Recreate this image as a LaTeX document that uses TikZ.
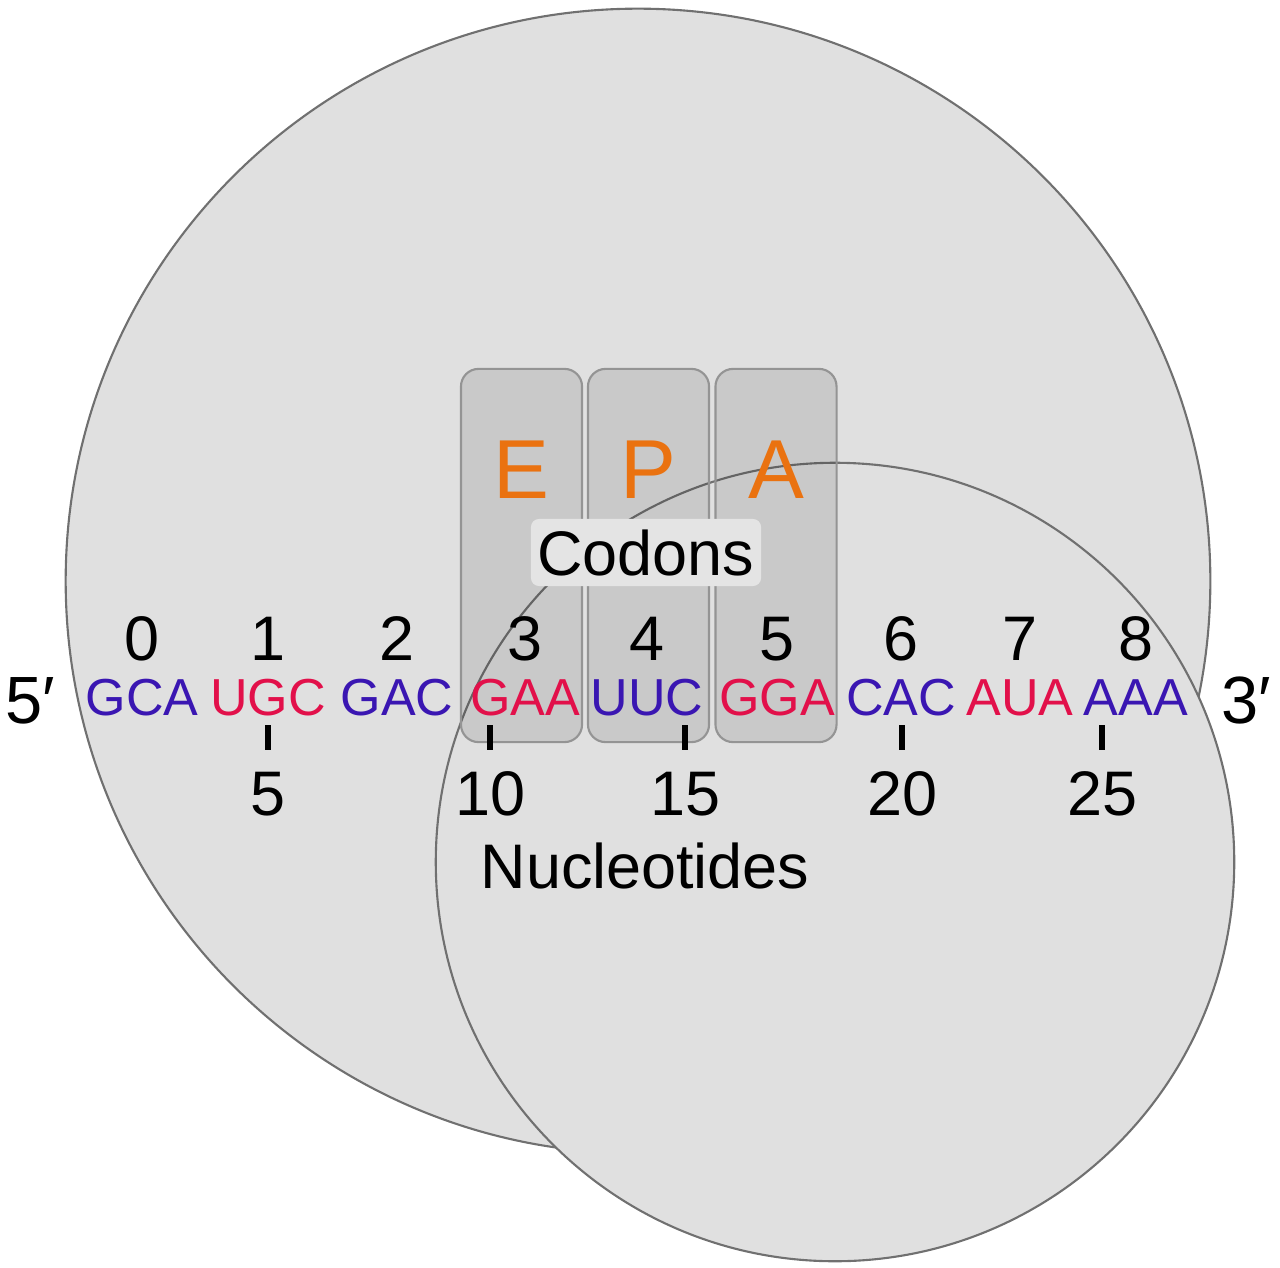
\documentclass[tikz,border=0pt]{standalone}
\usepackage{fontspec}
\setmainfont{Liberation Sans}
\definecolor{cblue}{RGB}{58,22,178}
\definecolor{cred}{RGB}{226,16,74}
\definecolor{corange}{RGB}{234,114,16}
\definecolor{subfill}{RGB}{224,224,224}
\definecolor{subline}{RGB}{112,112,112}
\definecolor{labfill}{RGB}{228,228,228}
\begin{document}
\begin{tikzpicture}[x=.01cm,y=-.01cm,
  sub/.style={fill=subfill,draw=subline,line width=.6pt},
  site/.style={draw=black!42,line width=.6pt,fill=black,fill opacity=.1,rounded corners=5pt,minimum width=1.21cm,minimum height=3.73cm,inner sep=0pt},
  sitelab/.style={anchor=base,text=corange,inner sep=0pt,font=\fontsize{23.8}{26}\selectfont},
  big/.style={anchor=base,inner sep=0pt,font=\fontsize{17.9}{20}\selectfont},
  codon/.style={anchor=base,inner sep=0pt,font=\fontsize{14.8}{17}\selectfont},
  codbg/.style={fill=labfill,rounded corners=2.3pt,minimum width=2.3cm,minimum height=.67cm,inner sep=0pt,font=\fontsize{17.9}{20}\selectfont}]
\useasboundingbox (0,0) rectangle (1280,1267);
% subunits
\draw[sub] (638,581) circle (5.72cm);
\draw[sub] (835,862) circle (3.99cm);
% E, P, A sites
\foreach \s/\x in {E/521.5,P/648.5,A/776}
  \node[site] (site\s) at (\x,555.5) {} node[sitelab] (lab\s) at (\x,498) {\s};
\node[codbg] (codons) at (646,552.5) {Codons};
% mRNA
\node[anchor=base,inner sep=0pt,font=\fontsize{19}{21}\selectfont] (five) at (30,723) {5′};
\node[anchor=base,inner sep=0pt,font=\fontsize{19}{21}\selectfont] (three) at (1246,723) {3′};
\foreach \i/\x/\t/\c in {0/142/GCA/cblue,1/268/UGC/cred,2/397/GAC/cblue,3/525/GAA/cred,4/647/UUC/cblue,5/777/GGA/cred,6/901/CAC/cblue,7/1020/AUA/cred,8/1136/AAA/cblue}
  \node[codon,text=\c] (cod\i) at (\x,715) {\t} node[big] (num\i) at (\x,660) {\i};
\foreach \x/\n in {268/5,490/10,685/15,902/20,1102/25}
  \draw[line width=1.7pt] (\x,725) -- (\x,750) node[big] (nt\n) at (\x,815) {\n};
\node[big] (ntlabel) at (645,888) {Nucleotides};
\end{tikzpicture}
\end{document}
